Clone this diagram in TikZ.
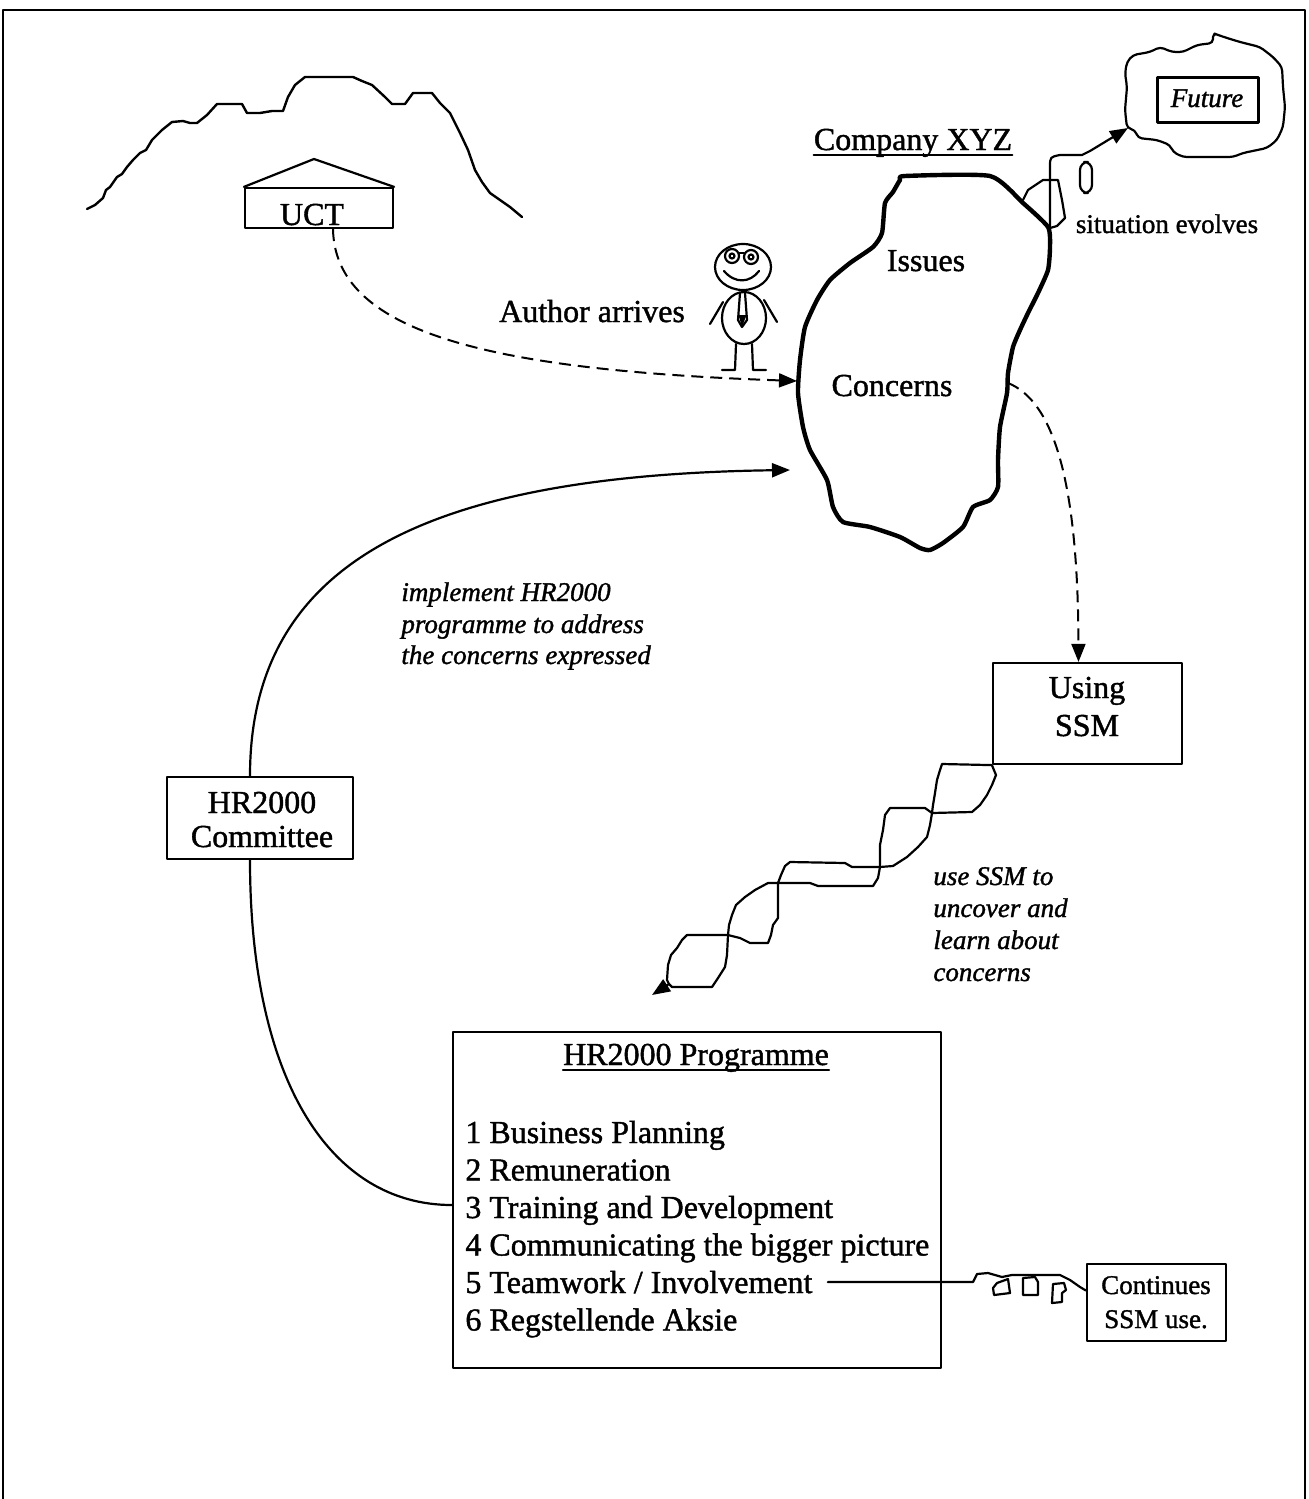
\documentclass[tikz,border=0pt]{standalone}
\usepackage{fontspec}
\setmainfont{Liberation Serif}[FakeBold=1.3]
\usetikzlibrary{arrows.meta}

\begin{document}
\begin{tikzpicture}[x=0.5pt,y=-0.5pt,
  line cap=round, line join=round,
  txt/.style={font=\fontsize{16}{18.75}\selectfont, inner sep=0pt, anchor=base},
  txtl/.style={txt, anchor=base west},
  sml/.style={font=\fontsize{13.5}{16}\selectfont, inner sep=0pt, anchor=base},
  note/.style={font=\fontsize{13.5}{16}\selectfont\itshape, inner sep=0pt, anchor=base west},
  box/.style={draw, line width=1.1pt, inner sep=0pt, rectangle},
  pen/.style={line width=1.1pt},
  dashpen/.style={line width=1pt, line cap=butt, dash pattern=on 6pt off 3.5pt},
  tip/.style={-{Triangle[length=9pt,width=7pt]}},
]
\useasboundingbox (0,0) rectangle (1308,1499);

% page frame
\draw[line width=1.2pt] (3,1499) -- (3,10) -- (1305,10) -- (1305,1499);

% Table Mountain
\draw[line width=1.2pt] (87,209) -- (95,205) -- (103,198) -- (106,190) -- (110,187) -- (117,177) -- (122,174) -- (127,167)
  -- (133,160) -- (140,153) -- (146,150) -- (152,140) -- (162,130) -- (172,122) -- (183,121) -- (190,123)
  -- (197,123) -- (207,115) -- (217,104) -- (242,104) -- (247,113) -- (260,113) -- (272,111)
  -- (283,111) -- (288,97) -- (295,85) -- (305,77) -- (353,77) -- (362,81) -- (372,85)
  -- (385,97) -- (392,104) -- (405,104) -- (413,93) -- (432,93) -- (440,103) -- (450,113)
  -- (460,133) -- (468,150) -- (475,170) -- (482,182) -- (490,193) -- (510,207) -- (522,217);

% university building
\node[box, minimum width=74pt, minimum height=20pt] (uct) at (319,208) {};
\node[txt] (uctlbl) at (312,225) {UCT};
\draw[line width=1.1pt] (uct.north west) -- (314,159) -- (uct.north east);

% the future
\draw[line width=1.1pt, rounded corners=2pt] (1127,62) -- (1133,55) -- (1150,52) -- (1160,47)
  -- (1172,52) -- (1183,52) -- (1197,45) -- (1213,43) -- (1213,33) -- (1218,35) -- (1227,38)
  -- (1240,42) -- (1260,47) -- (1273,57) -- (1282,67) -- (1283,87) -- (1285,107) -- (1283,127)
  -- (1277,140) -- (1267,148) -- (1243,153) -- (1233,157) -- (1183,157) -- (1173,152)
  -- (1170,145) -- (1157,140) -- (1138,138) -- (1135,130) -- (1127,128) -- (1125,110)
  -- (1127,87) -- (1125,73) -- cycle;
\coordinate (cloudSW) at (1128,128);
\node[box, minimum width=50.5pt, minimum height=22.5pt] (future) at (1208,100) {};
\node[sml, font=\fontsize{13.5}{16}\selectfont\itshape] (futurelbl) at (1207,107) {Future};

% company
\node[txt] (company) at (913,150) {Company XYZ};
\draw[line width=0.8pt] ([yshift=-2.5pt]company.base west) -- ([yshift=-2.5pt]company.base east);

\draw[line width=2.2pt] plot[smooth cycle, tension=0.35] coordinates {
  (905,176) (990,176) (1023,203) (1048,227) (1050,247) (1048,270) (1038,293) (1028,313)
  (1020,330) (1013,347) (1008,373) (1007,393) (1000,427) (998,460) (998,487) (990,500)
  (973,507) (963,527) (943,543) (930,550) (920,548) (900,537) (870,527) (843,522) (833,507)
  (827,480) (810,450) (803,427) (798,393) (800,360) (805,327) (817,300) (830,280) (850,263)
  (873,247) (882,233) (885,203) (893,192) (900,180)};
\coordinate (islandW) at (797,381);
\coordinate (islandE) at (1008,383);
\coordinate (islandNE) at (1050,228);
\coordinate (islandSW) at (790,470);
\node[txt] (issues) at (926,271) {Issues};
\node[txt] (concerns) at (892,396) {Concerns};

% evolving situation
\draw[pen] (1023,200) -- (1028,190) -- (1043,180) -- (1058,180) -- (1062,200) -- (1065,218)
  -- (1057,226) -- (islandNE);
\draw[pen, rounded corners=4pt] (1080,162) rectangle (1092,193);
\draw[pen, tip] (islandNE) -- (1050,167) .. controls (1050,157) .. (1060,155) -- (1082,155)
  -- (1090,151) -- (cloudSW);
\node[sml] (evolves) at (1167,233) {situation evolves};

% the author
\begin{scope}[line width=1.1pt]
  \draw (743,267) ellipse [x radius=28, y radius=23];
  \draw (732,256) circle [radius=7];
  \draw (751,257) circle [radius=7];
  \draw (732,256) circle [radius=2.5];
  \draw (751,257) circle [radius=2.5];
  \draw (739,253) -- (744,253);
  \draw (724,271) .. controls (735,284) and (750,283) .. (759,271);
  \draw (744,318) ellipse [x radius=22, y radius=26];
  \draw (740,293) -- (738,320) -- (742,327) -- (747,320) -- (745,293);
  \fill (738.5,315) -- (742,327) -- (746.5,315) -- cycle;
  \draw (723,302) -- (710,324);
  \draw (764,300) -- (777,322);
  \draw (736,344) -- (735,370) -- (722,370);
  \draw (752,344) -- (753,370) -- (766,370);
\end{scope}
\node[txt] (author) at (592,322) {Author arrives};

\draw[dashpen, tip] ([xshift=7pt]uct.south) .. controls (335,330) and (480,370) .. (islandW);

% HR2000 committee
\node[box, minimum width=93pt, minimum height=41pt] (committee) at (260,818) {};
\node[txt] (comm1) at (262,813) {HR2000};
\node[txt] (comm2) at (262,847) {Committee};
\draw[pen, tip] ([xshift=-5pt]committee.north) .. controls (250,560) and (430,475) .. (islandSW);
\node[note] (impl1) at (401,601) {implement HR2000};
\node[note] (impl2) at (401,633) {programme to address};
\node[note] (impl3) at (401,664) {the concerns expressed};

% using SSM
\node[box, minimum width=94.5pt, minimum height=50.5pt] (ssm) at (1087.5,713.5) {};
\node[txt] (ssm1) at (1087,698) {Using};
\node[txt] (ssm2) at (1087,736) {SSM};
\draw[dashpen, tip] (islandE) .. controls (1050,400) and (1078,470) .. ([xshift=-4.5pt]ssm.north);

% SSM learning cycles
\coordinate (h0) at (ssm.south west);
\coordinate (h1) at (932,813);
\coordinate (h2) at (880,867);
\coordinate (h3) at (778,883);
\coordinate (h4) at (728,935);
\coordinate (spiralEnd) at (669,984);
\coordinate (spiralTip) at (652,995);
\begin{scope}[pen]
  \draw (h0) -- (942,764) -- (940,770) -- (937,780) -- (935,793) -- (933,805) -- (h1);
  \draw (h0) -- (996,775) -- (992,785) -- (987,795) -- (980,805) -- (972,812) -- (h1);
  \draw (h1) -- (925,808) -- (890,808) -- (885,815) -- (883,830) -- (880,845) -- (h2);
  \draw (h1) -- (930,825) -- (927,837) -- (918,847) -- (907,857) -- (893,866) -- (h2);
  \draw (h2) -- (852,867) -- (845,863) -- (790,862) -- (785,866) -- (781,875) -- (h3);
  \draw (h2) -- (878,878) -- (873,886) -- (818,886) -- (810,883) -- (h3);
  \draw (h3) -- (768,883) -- (755,890) -- (745,897) -- (736,905) -- (732,915) -- (729,925) -- (h4);
  \draw (h3) -- (778,918) -- (773,925) -- (771,935) -- (768,943) -- (750,943) -- (740,938) -- (h4);
  \draw (h4) -- (687,935) -- (682,940) -- (677,948) -- (671,955) -- (668,965) -- (667,980) -- (spiralEnd);
  \draw (h4) -- (727,955) -- (725,967) -- (718,978) -- (712,987) -- (672,987) -- (spiralEnd);
  \draw[tip] (spiralEnd) -- (spiralTip);
\end{scope}
\node[note] (use1) at (933,885) {use SSM to};
\node[note] (use2) at (933,917) {uncover and};
\node[note] (use3) at (933,949) {learn about};
\node[note] (use4) at (933,981) {concerns};

% HR2000 programme
\node[box, minimum width=244pt, minimum height=168pt] (prog) at (697,1200) {};
\node[txt] (progtitle) at (696,1065) {HR2000 Programme};
\draw[line width=0.8pt] ([yshift=-2.5pt]progtitle.base west) -- ([yshift=-2.5pt]progtitle.base east);
\node[txtl] (item1) at (465,1143) {1 Business Planning};
\node[txtl] (item2) at (465,1180.5) {2 Remuneration};
\node[txtl] (item3) at (465,1218) {3 Training and Development};
\node[txtl] (item4) at (465,1255.5) {4 Communicating the bigger picture};
\node[txtl] (item5) at (465,1293) {5 Teamwork / Involvement};
\node[txtl] (item6) at (465,1330.5) {6 Regstellende Aksie};
\draw[pen] ([xshift=-5pt]committee.south) .. controls (250,1080) and (330,1205) .. ([yshift=-2.5pt]prog.west);

% continued use
\node[box, minimum width=69.5pt, minimum height=38.5pt] (cont) at (1156.5,1302.5) {};
\node[sml] (cont1) at (1156,1294) {Continues};
\node[sml] (cont2) at (1156,1328) {SSM use.};
\draw[pen] ([xshift=7.5pt]item5.east) -- (973,1282) -- (977,1274) -- (988,1273) -- (1002,1277)
  -- (1012,1275) -- (1060,1275) -- (1070,1280) -- (1080,1287) -- ([yshift=6pt]cont.west);
\draw[pen] (993,1288) -- (997,1283) -- (1008,1279) -- (1010,1293) -- (994,1295) -- cycle;
\draw[pen] (1023,1278) -- (1035,1277) -- (1038,1282) -- (1038,1295) -- (1023,1295) -- cycle;
\draw[pen] (1053,1284) -- (1064,1283) -- (1066,1290) -- (1062,1293) -- (1062,1302) -- (1052,1303) -- cycle;

\end{tikzpicture}
\end{document}
